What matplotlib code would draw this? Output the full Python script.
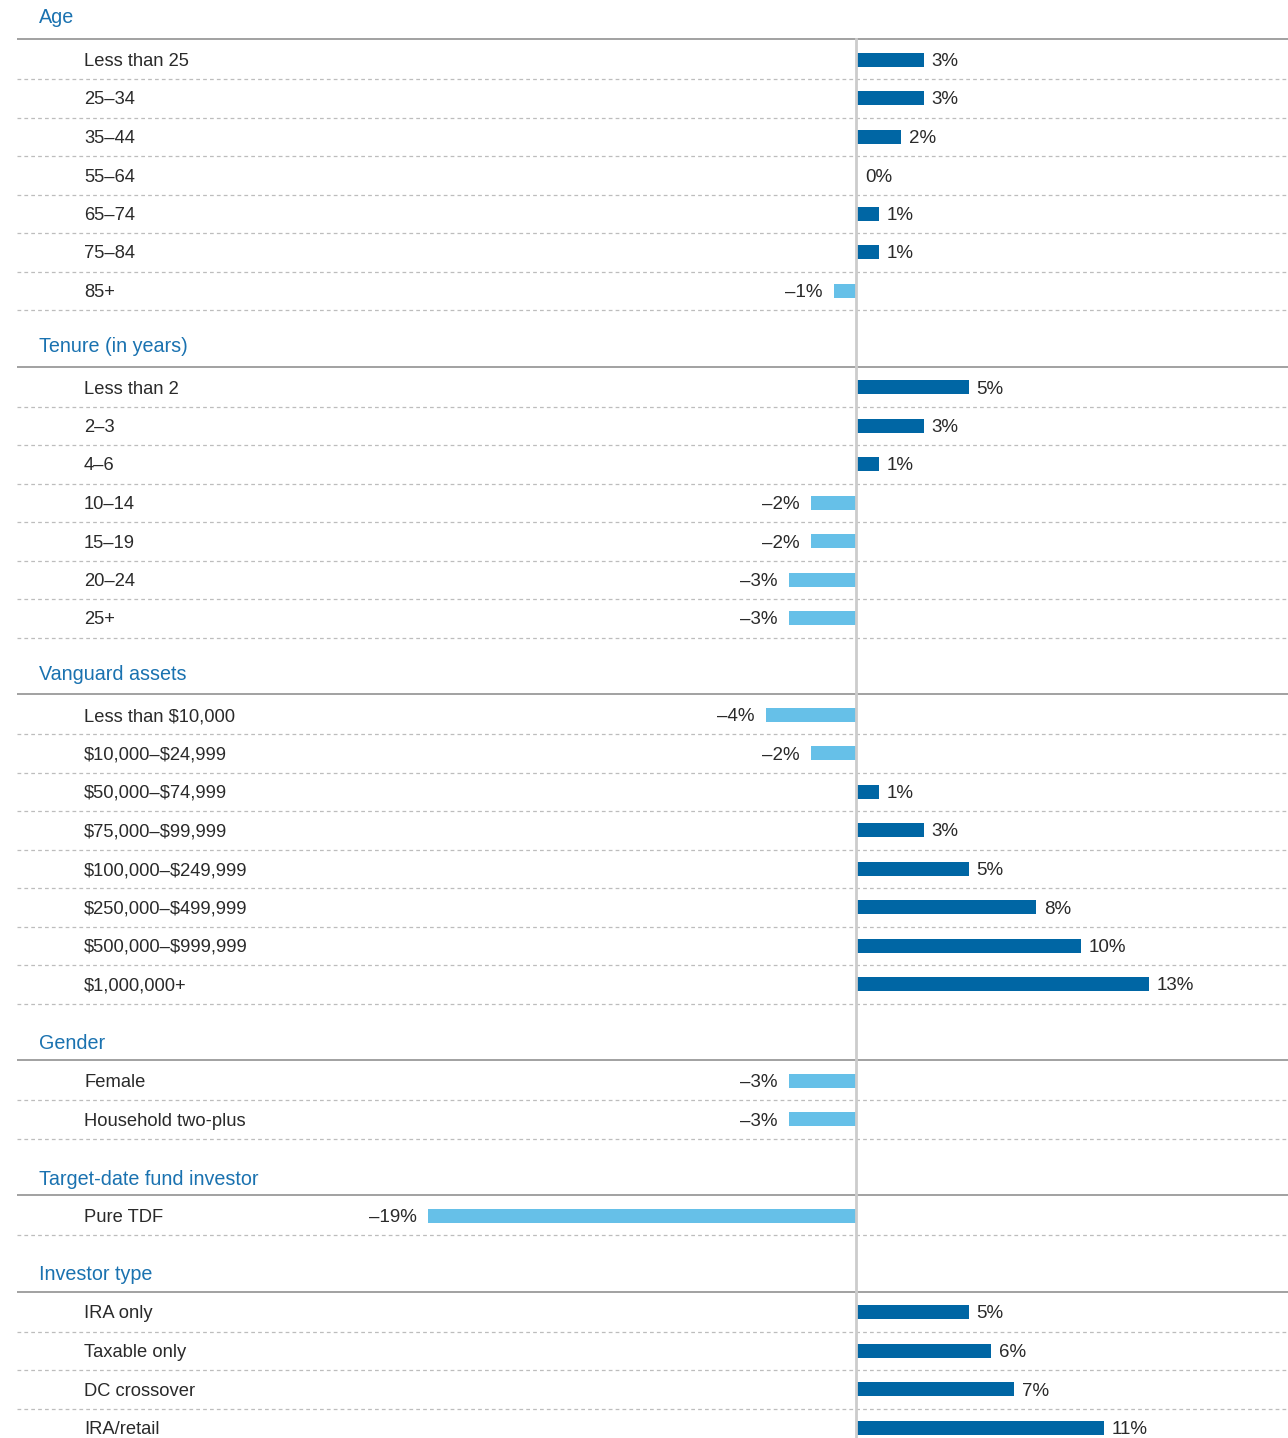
import matplotlib.pyplot as plt
import matplotlib.transforms as mtransforms

plt.rcParams['font.family'] = ['Liberation Sans', 'DejaVu Sans']

# data
groups = ['Age', 'Tenure (in years)', 'Vanguard assets', 'Gender',
          'Target-date fund investor', 'Investor type']
age_labels = ['Less than 25', '25–34', '35–44', '55–64', '65–74', '75–84', '85+']
age_values = [3, 3, 2, 0, 1, 1, -1]
tenure_labels = ['Less than 2', '2–3', '4–6', '10–14', '15–19', '20–24', '25+']
tenure_values = [5, 3, 1, -2, -2, -3, -3]
assets_labels = ['Less than \\$10,000', '\\$10,000–\\$24,999', '\\$50,000–\\$74,999',
                 '\\$75,000–\\$99,999', '\\$100,000–\\$249,999', '\\$250,000–\\$499,999',
                 '\\$500,000–\\$999,999', '\\$1,000,000+']
assets_values = [-4, -2, 1, 3, 5, 8, 10, 13]
gender_labels = ['Female', 'Household two-plus']
gender_values = [-3, -3]
tdf_labels = ['Pure TDF']
tdf_values = [-19]
investor_labels = ['IRA only', 'Taxable only', 'DC crossover', 'IRA/retail']
investor_values = [5, 6, 7, 11]

all_labels = [age_labels, tenure_labels, assets_labels, gender_labels,
              tdf_labels, investor_labels]
all_values = [age_values, tenure_values, assets_values, gender_values,
              tdf_values, investor_values]

W, H = 1288, 1438
fig = plt.figure(figsize=(W / 100, H / 100), dpi=100)
ax = fig.add_axes([0, 0, 1, 1])
px_per_pct = 22.5
zero_px = 856
ax.set_xlim(-zero_px / px_per_pct, (W - zero_px) / px_per_pct)
ax.set_ylim(H, 0)
ax.axis('off')

dark = '#0066a4'
light = '#66c0e8'
head_col = '#1a72b0'
txt_col = '#2a2a2a'
trans = mtransforms.blended_transform_factory(ax.transAxes, ax.transData)

step = 38.5
bar_h = 14
head_off = [16, 15, 14, 11, 10, 12]
line_y = 39
first_line = line_y
for gi, (gname, labels, values) in enumerate(zip(groups, all_labels, all_values)):
    ax.text(39 / W, line_y - head_off[gi], gname, transform=trans, color=head_col,
            fontsize=14.2, va='baseline', ha='left')
    ax.plot([17 / W, 1], [line_y, line_y], transform=trans, color='#9a9a9a',
            lw=1.3, solid_capstyle='butt')
    ry = line_y + 20.5
    for lab, v in zip(labels, values):
        ax.text(84 / W, ry, lab, transform=trans, color=txt_col, fontsize=13.2,
                va='center_baseline', ha='left')
        col = dark if v >= 0 else light
        ax.barh(ry, v, height=bar_h, left=0, color=col, zorder=3)
        txt = f'{v}%' if v >= 0 else f'–{abs(v)}%'
        if v > 0:
            ax.text(v + 0.36, ry, txt, color=txt_col, fontsize=13.5,
                    va='center_baseline', ha='left')
        elif v == 0:
            ax.text(0.4, ry, txt, color=txt_col, fontsize=13.5,
                    va='center_baseline', ha='left')
        else:
            ax.text(v - 0.5, ry, txt, color=txt_col, fontsize=13.5,
                    va='center_baseline', ha='right')
        sep = ry + 19.5
        ax.plot([17 / W, 1], [sep, sep], transform=trans, color='#bdbdbd',
                lw=0.9, ls=(0, (3, 2.5)))
        ry += step
    line_y = sep + 56.5

ax.plot([0, 0], [first_line, H], color='#cccccc', lw=2, zorder=4)

fig.savefig('out.png', dpi=100)
